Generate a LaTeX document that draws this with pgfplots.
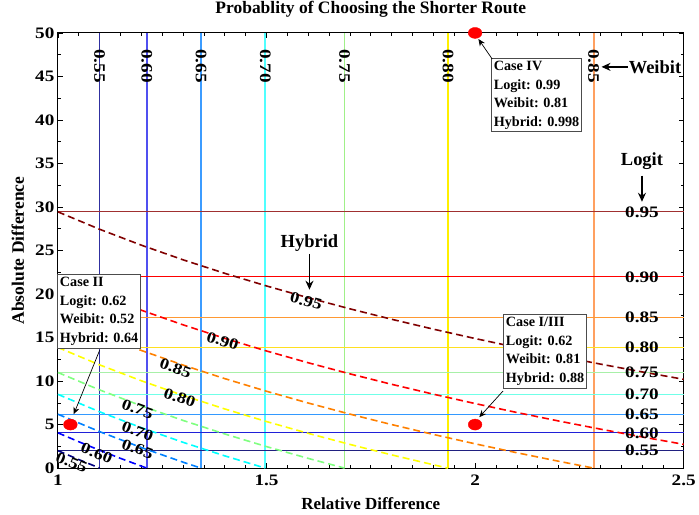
\documentclass[border=0pt]{standalone}
\usepackage{fontspec}
\setmainfont{Liberation Serif}
\newfontfamily\tickfont{Liberation Serif}[FakeStretch=1.2]
\usepackage{pgfplots}
\pgfplotsset{compat=1.18}
\usetikzlibrary{arrows.meta}
\definecolor{h55}{HTML}{202080}
\definecolor{h60}{HTML}{2020D8}
\definecolor{h65}{HTML}{3399FF}
\definecolor{h70}{HTML}{70FFE8}
\definecolor{h75}{HTML}{A8F0A8}
\definecolor{h80}{HTML}{FFE020}
\definecolor{h85}{HTML}{FF9933}
\definecolor{h90}{HTML}{FF0000}
\definecolor{h95}{HTML}{A03030}
\definecolor{v55}{HTML}{3030A0}
\definecolor{v60}{HTML}{5050F0}
\definecolor{v65}{HTML}{3C9CFF}
\definecolor{v70}{HTML}{50FFFF}
\definecolor{v75}{HTML}{A0F088}
\definecolor{v80}{HTML}{FFF000}
\definecolor{v85}{HTML}{FFA060}
\definecolor{d55}{HTML}{000080}
\definecolor{d60}{HTML}{0000FF}
\definecolor{d65}{HTML}{0080FF}
\definecolor{d70}{HTML}{00FFFF}
\definecolor{d75}{HTML}{80FF80}
\definecolor{d80}{HTML}{FFFF00}
\definecolor{d85}{HTML}{FF8000}
\definecolor{d90}{HTML}{FF0000}
\definecolor{d95}{HTML}{800000}
\tikzset{
  lab/.style={font=\tickfont\fontsize{16}{16}\selectfont\bfseries, inner sep=0pt},
  hlab/.style={font=\tickfont\fontsize{15.5}{15.5}\selectfont\bfseries, inner sep=0pt},
  ann/.style={font=\fontsize{18.5}{18.5}\selectfont\bfseries, inner sep=0pt},
  box/.style={draw=black!70, line width=0.8pt, fill=white, align=left, anchor=north west, inner sep=2.5pt, font=\fontsize{14.2}{18.6}\selectfont\bfseries},
  hyb/.style={line width=1.6pt, dash pattern=on 7pt off 4pt},
}
\begin{document}
\begin{tikzpicture}
\begin{axis}[
  name=ax,
  scale only axis, width=627pt, height=436pt,
  xmin=1, xmax=2.5, ymin=0, ymax=50,
  xtick={1,1.5,2,2.5}, ytick={0,5,...,50},
  minor x tick num=9, minor y tick num=1,
  tick align=inside, major tick length=5pt, minor tick length=3pt,
  axis line style={line width=1pt},
  tick style={black, line width=0.6pt},
  /pgf/number format/assume math mode=true,
  tick label style={font=\tickfont\fontsize{16}{16}\selectfont\bfseries},
  xticklabel style={yshift=-3pt},
  title={\fontsize{17.5}{17.5}\selectfont\bfseries Probablity of Choosing the Shorter Route},
  title style={at={(axis description cs:0.5,1)}, anchor=base, yshift=13pt, inner sep=0pt},
  xlabel={\fontsize{17}{17}\selectfont\bfseries Relative Difference},
  ylabel={\fontsize{17.5}{17.5}\selectfont\bfseries Absolute Difference},
  xlabel style={at={(axis description cs:0.5,0)}, anchor=base, yshift=-41pt, inner sep=0pt},
  ylabel style={at={(axis description cs:-0.0542,0.5)}, anchor=base, inner sep=0pt},
  clip=false,
]
% Weibit (vertical)
\addplot[v55, line width=1.7pt] coordinates {(1.100,0) (1.100,50)};
\addplot[v60, line width=1.7pt] coordinates {(1.213,0) (1.213,50)};
\addplot[v65, line width=1.7pt] coordinates {(1.343,0) (1.343,50)};
\addplot[v70, line width=1.7pt] coordinates {(1.497,0) (1.497,50)};
\addplot[v75, line width=1.7pt] coordinates {(1.687,0) (1.687,50)};
\addplot[v80, line width=1.7pt] coordinates {(1.935,0) (1.935,50)};
\addplot[v85, line width=2pt] coordinates {(2.284,0) (2.284,50)};
% Logit (horizontal)
\addplot[h55, line width=1.2pt] coordinates {(1,2.007) (2.5,2.007)};
\addplot[h60, line width=1.2pt] coordinates {(1,4.055) (2.5,4.055)};
\addplot[h65, line width=1.2pt] coordinates {(1,6.190) (2.5,6.190)};
\addplot[h70, line width=1.2pt] coordinates {(1,8.473) (2.5,8.473)};
\addplot[h75, line width=1.9pt] coordinates {(1,10.986) (2.5,10.986)};
\addplot[h80, line width=1.2pt] coordinates {(1,13.863) (2.5,13.863)};
\addplot[h85, line width=1.2pt] coordinates {(1,17.346) (2.5,17.346)};
\addplot[h90, line width=1.2pt] coordinates {(1,21.972) (2.5,21.972)};
\addplot[h95, line width=1.2pt] coordinates {(1,29.444) (2.5,29.444)};
% Hybrid (dashed)
\addplot[d55, hyb] coordinates {(1,2.007) (1.05,0.982) (1.1003,0)};
\addplot[d60, hyb] coordinates {(1,4.055) (1.05,3.030) (1.1,2.053) (1.15,1.120) (1.213,0)};
\addplot[d65, hyb] coordinates {(1,6.190) (1.1,4.189) (1.2,2.361) (1.3,0.680) (1.3428,0)};
\addplot[d70, hyb] coordinates {(1,8.473) (1.1,6.471) (1.2,4.644) (1.3,2.963) (1.4,1.407) (1.497,0)};
\addplot[d75, hyb] coordinates {(1,10.986) (1.1,8.985) (1.2,7.157) (1.3,5.476) (1.4,3.920) (1.5,2.471) (1.6,1.116) (1.6873,0)};
\addplot[d80, hyb] coordinates {(1,13.863) (1.1,11.861) (1.2,10.034) (1.3,8.353) (1.4,6.797) (1.5,5.348) (1.6,3.993) (1.7,2.720) (1.8,1.519) (1.9,0.384) (1.9351,0)};
\addplot[d85, hyb] coordinates {(1,17.346) (1.1,15.344) (1.2,13.517) (1.3,11.836) (1.4,10.280) (1.5,8.831) (1.6,7.476) (1.7,6.203) (1.8,5.002) (1.9,3.867) (2.0,2.790) (2.1,1.765) (2.2,0.788) (2.2842,0)};
\addplot[d90, hyb] coordinates {(1,21.972) (1.1,19.971) (1.2,18.143) (1.3,16.462) (1.4,14.906) (1.5,13.457) (1.6,12.102) (1.7,10.829) (1.8,9.628) (1.9,8.493) (2.0,7.416) (2.1,6.391) (2.2,5.414) (2.3,4.481) (2.4,3.587) (2.5,2.730)};
\addplot[d95, hyb] coordinates {(1,29.444) (1.1,27.443) (1.2,25.615) (1.3,23.934) (1.4,22.378) (1.5,20.929) (1.6,19.574) (1.7,18.301) (1.8,17.100) (1.9,15.965) (2.0,14.888) (2.1,13.863) (2.2,12.886) (2.3,11.953) (2.4,11.059) (2.5,10.202)};
% cases
\addplot[only marks, mark=*, mark size=5.5pt, color=red, mark options={xscale=1.25}] coordinates {(2,50) (2,5) (1.03,5)};
% Weibit labels
\node[lab, rotate=-90] at (axis cs:1.100,46.2) {0.55};
\node[lab, rotate=-90] at (axis cs:1.213,46.2) {0.60};
\node[lab, rotate=-90] at (axis cs:1.343,46.2) {0.65};
\node[lab, rotate=-90] at (axis cs:1.497,46.2) {0.70};
\node[lab, rotate=-90] at (axis cs:1.687,46.2) {0.75};
\node[lab, rotate=-90] at (axis cs:1.935,46.2) {0.80};
\node[lab, rotate=-90] at (axis cs:2.284,46.2) {0.85};
% Logit labels
\node[lab] at (axis cs:2.40,2.007) {0.55};
\node[lab] at (axis cs:2.40,4.055) {0.60};
\node[lab] at (axis cs:2.40,6.190) {0.65};
\node[lab] at (axis cs:2.40,8.473) {0.70};
\node[lab] at (axis cs:2.40,10.986) {0.75};
\node[lab] at (axis cs:2.40,13.863) {0.80};
\node[lab] at (axis cs:2.40,17.346) {0.85};
\node[lab] at (axis cs:2.40,21.972) {0.90};
\node[lab] at (axis cs:2.40,29.444) {0.95};
% Hybrid labels
\node[hlab, rotate=-15] at (axis cs:1.595,19.2) {0.95};
\node[hlab, rotate=-17] at (axis cs:1.395,14.6) {0.90};
\node[hlab, rotate=-19] at (axis cs:1.282,11.5) {0.85};
\node[hlab, rotate=-19] at (axis cs:1.292,8.1) {0.80};
\node[hlab, rotate=-20] at (axis cs:1.191,6.8) {0.75};
\node[hlab, rotate=-20] at (axis cs:1.191,4.2) {0.70};
\node[hlab, rotate=-20] at (axis cs:1.191,2.2) {0.65};
\node[hlab, rotate=-22] at (axis cs:1.093,1.7) {0.60};
\node[hlab, rotate=-22] at (axis cs:1.033,0.65) {0.55};
% annotations
\node[box] at (axis cs:2.038,47.1) {Case IV\\Logit: 0.99\\Weibit: 0.81\\Hybrid: 0.998};
\node[box] at (axis cs:2.067,17.66) {Case I/III\\Logit: 0.62\\Weibit: 0.81\\Hybrid: 0.88};
\node[box] at (axis cs:0.998,22.25) {Case II\\Logit: 0.62\\Weibit: 0.52\\Hybrid: 0.64};
\draw[-{Stealth[length=7pt,width=6pt]}, line width=0.7pt] (axis cs:2.041,47.0) -- (axis cs:2.008,49.3);
\draw[-{Stealth[length=7pt,width=6pt]}, line width=0.7pt] (axis cs:2.067,8.86) -- (axis cs:2.010,5.85);
\draw[-{Stealth[length=7pt,width=6pt]}, line width=0.7pt] (axis cs:1.100,13.53) -- (axis cs:1.038,6.19);
\node[ann, anchor=west] at (axis cs:2.368,46.1) {Weibit};
\draw[-{Stealth[length=9pt,width=8pt]}, line width=1.6pt] (axis cs:2.366,46.1) -- (axis cs:2.303,46.1);
\node[ann] at (axis cs:2.40,35.3) {Logit};
\draw[-{Stealth[length=9pt,width=8pt]}, line width=1.6pt] (axis cs:2.40,33.6) -- (axis cs:2.40,30.6);
\node[ann] at (axis cs:1.603,25.9) {Hybrid};
\draw[-{Stealth[length=9pt,width=8pt]}, line width=1.6pt] (axis cs:1.603,24.6) -- (axis cs:1.603,20.5);
\end{axis}
\path (ax.south west) -- ++(-58pt,0pt);
\path (ax.north west) -- ++(0pt,33pt);
\path (ax.south west) -- ++(0pt,-46pt);
\end{tikzpicture}
\end{document}
